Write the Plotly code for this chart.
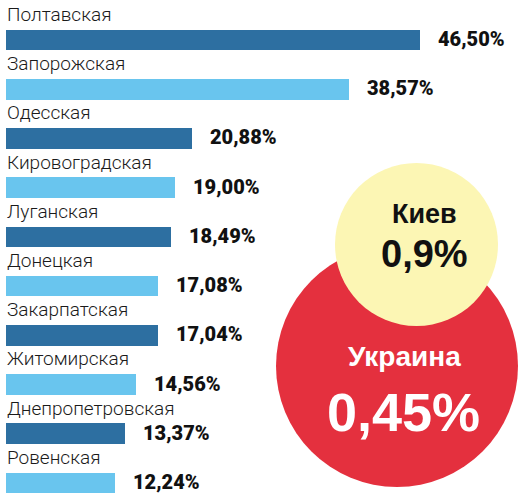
import plotly.graph_objects as go

regions = ["Полтавская", "Запорожская", "Одесская", "Кировоградская", "Луганская",
           "Донецкая", "Закарпатская", "Житомирская", "Днепропетровская", "Ровенская"]
values = [46.50, 38.57, 20.88, 19.00, 18.49, 17.08, 17.04, 14.56, 13.37, 12.24]
value_labels = ["46,50%", "38,57%", "20,88%", "19,00%", "18,49%",
                "17,08%", "17,04%", "14,56%", "13,37%", "12,24%"]
kiev_label, kiev_value = "Киев", "0,9%"
ukraine_label, ukraine_value = "Украина", "0,45%"

DARK = "#2d6fa1"
LIGHT = "#69c5ee"
RED = "#e4303e"
YELLOW = "#fcf6b4"
NARROW = "Roboto, sans-serif"
BOLD = "Liberation Sans, Arial, sans-serif"

W, H = 527, 499
idx = list(range(len(values)))
colors = [DARK if i % 2 == 0 else LIGHT for i in idx]

fig = go.Figure()
fig.add_trace(go.Bar(
    x=values, y=idx, orientation="h", width=0.42,
    marker=dict(color=colors, line=dict(width=0)),
    hoverinfo="skip", showlegend=False,
))

annotations = []
for i, (r, v, lab) in enumerate(zip(regions, values, value_labels)):
    annotations.append(dict(
        x=0, y=i - 0.52, xref="x", yref="y", text=r, showarrow=False,
        xanchor="left", yanchor="middle", xshift=-1,
        font=dict(family=NARROW, size=19, color="#1a1a1a", weight=300),
    ))
    annotations.append(dict(
        x=v, y=i, xref="x", yref="y", text=lab, showarrow=False,
        xanchor="left", yanchor="middle", xshift=16, yshift=1,
        font=dict(family=NARROW, size=20, color="#111111", weight=900),
    ))

# circle texts
annotations += [
    dict(x=424 / W, y=1 - 214 / H, xref="paper", yref="paper",
         text="<b>" + kiev_label + "</b>", showarrow=False,
         xanchor="center", yanchor="middle",
         font=dict(family=BOLD, size=27, color="#111111")),
    dict(x=424 / W, y=1 - 254 / H, xref="paper", yref="paper",
         text="<b>" + kiev_value + "</b>", showarrow=False,
         xanchor="center", yanchor="middle",
         font=dict(family=BOLD, size=38, color="#111111")),
    dict(x=404 / W, y=1 - 356 / H, xref="paper", yref="paper",
         text="<b>" + ukraine_label + "</b>", showarrow=False,
         xanchor="center", yanchor="middle",
         font=dict(family=BOLD, size=28, color="#ffffff")),
    dict(x=403 / W, y=1 - 412 / H, xref="paper", yref="paper",
         text="<b>" + ukraine_value + "</b>", showarrow=False,
         xanchor="center", yanchor="middle",
         font=dict(family=BOLD, size=54, color="#ffffff")),
]

shapes = [
    dict(type="circle", xref="paper", yref="paper", layer="above",
         x0=276 / W, x1=518 / W, y0=1 - 487 / H, y1=1 - 245 / H,
         fillcolor=RED, line=dict(width=0)),
    dict(type="circle", xref="paper", yref="paper", layer="above",
         x0=335 / W, x1=498 / W, y0=1 - 326 / H, y1=1 - 163 / H,
         fillcolor=YELLOW, line=dict(width=0)),
]

slope = 8.9  # px per unit
x0 = -6 / slope
x1 = x0 + W / slope
pitch = 49.22
y_top = -40 / pitch
y_bot = 9 + (H - 483) / pitch

fig.update_layout(
    width=W, height=H,
    margin=dict(l=0, r=0, t=0, b=0),
    paper_bgcolor="white", plot_bgcolor="white",
    xaxis=dict(range=[x0, x1], visible=False, fixedrange=True),
    yaxis=dict(range=[y_bot, y_top], visible=False, fixedrange=True),
    annotations=annotations, shapes=shapes,
    bargap=0,
)

fig.write_html(
    "out.html",
    config={"displayModeBar": False},
    post_script="document.body.style.margin='0';document.body.style.overflow='hidden';",
)
